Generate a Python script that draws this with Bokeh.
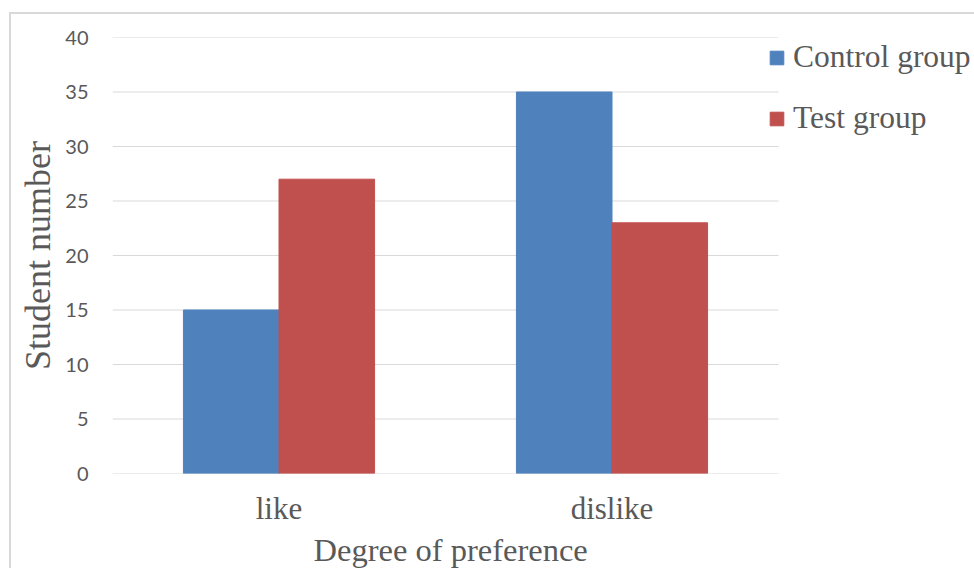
import numpy as np
from bokeh.plotting import figure
from bokeh.models import (ColumnDataSource, Legend, LegendItem, Range1d,
                          FixedTicker, Title)
from bokeh.embed import file_html
from bokeh.resources import INLINE

# ---- data ----
categories = ["like", "dislike"]
control_group = [15, 35]
test_group = [27, 23]
series_names = ["Control group", "Test group"]
y_ticks = [0, 5, 10, 15, 20, 25, 30, 35, 40]
x_title = "Degree of preference"
y_title = "Student number"

BLUE = "#4f81bd"
RED = "#c0504d"
TEXT = "#595959"
GRID = "#d9d9d9"
SERIF = "Liberation Serif"

n_cat = len(categories)
cat_pos = np.arange(n_cat) + 0.5          # category centres on the x scale
bw = 0.287                                 # bar width (category units)

src = ColumnDataSource(dict(cat=categories,
                            xc=cat_pos - bw / 2, xt=cat_pos + bw / 2,
                            control=control_group, test=test_group))
grid_src = ColumnDataSource(dict(y=y_ticks,
                                 x0=[0] * len(y_ticks),
                                 x1=[n_cat] * len(y_ticks)))

# plot area: categories occupy 666 px of an 862 px wide frame (legend sits right)
PLOT_W, FRAME_W = 666, 862
p = figure(x_range=Range1d(0, n_cat * FRAME_W / PLOT_W), y_range=Range1d(0, 40),
           width=974, height=568, output_backend="svg", toolbar_location=None,
           min_border_left=112, min_border_right=0, min_border_top=37,
           min_border_bottom=95)
p.outline_line_color = None
p.background_fill_color = "white"
p.border_fill_color = None
p.styles = {
    "background": ("linear-gradient(#d9d9d9,#d9d9d9) 9px 12px / 2px 100% no-repeat, "
                   "linear-gradient(#d9d9d9,#d9d9d9) 9px 12px / 100% 2px no-repeat, white"),
}

# horizontal gridlines across the category area only
p.xgrid.grid_line_color = None
p.ygrid.grid_line_color = None
p.segment(x0="x0", x1="x1", y0="y", y1="y", source=grid_src,
          line_color=GRID, line_width=1, level="underlay")

r1 = p.vbar(x="xc", top="control", width=bw, source=src,
            fill_color=BLUE, line_color=BLUE)
r2 = p.vbar(x="xt", top="test", width=bw, source=src,
            fill_color=RED, line_color=RED)

# y axis
p.yaxis.ticker = FixedTicker(ticks=y_ticks)
p.yaxis.axis_line_color = None
p.yaxis.major_tick_line_color = None
p.yaxis.minor_tick_line_color = None
p.yaxis.major_label_text_font = "Lato"
p.yaxis.major_label_text_font_size = "20px"
p.yaxis.major_label_text_color = TEXT
p.yaxis.major_label_standoff = 18
p.yaxis.axis_label = y_title
p.yaxis.axis_label_text_font = SERIF
p.yaxis.axis_label_text_font_size = "36px"
p.yaxis.axis_label_text_font_style = "normal"
p.yaxis.axis_label_text_color = TEXT
p.yaxis.axis_label_standoff = 4

# x axis (category labels)
p.xaxis.ticker = FixedTicker(ticks=list(cat_pos))
p.xaxis.major_label_overrides = {float(x): c for x, c in zip(cat_pos, categories)}
p.xaxis.axis_line_color = None
p.xaxis.major_tick_line_color = None
p.xaxis.minor_tick_line_color = None
p.xaxis.major_label_text_font = SERIF
p.xaxis.major_label_text_font_size = "31px"
p.xaxis.major_label_text_color = TEXT
p.xaxis.major_label_standoff = 11

# x axis title, under the category area
xt = Title(text=x_title, align="left", offset=201,
           text_font=SERIF, text_font_size="32.5px", text_font_style="normal",
           text_color=TEXT, standoff=2)
p.add_layout(xt, "below")

# legend
legend = Legend(items=[LegendItem(label=series_names[0], renderers=[r1]),
                       LegendItem(label=series_names[1], renderers=[r2])],
                location=(656, 335))
legend.margin = 0
legend.padding = 0
legend.border_line_color = None
legend.background_fill_alpha = 0
legend.glyph_width = 17
legend.glyph_height = 17
legend.label_standoff = 8
legend.label_height = 40
legend.spacing = 21
legend.label_text_font = SERIF
legend.label_text_font_size = "31.5px"
legend.label_text_color = TEXT
p.add_layout(legend)

open("out.html", "w").write(file_html(p, INLINE))
